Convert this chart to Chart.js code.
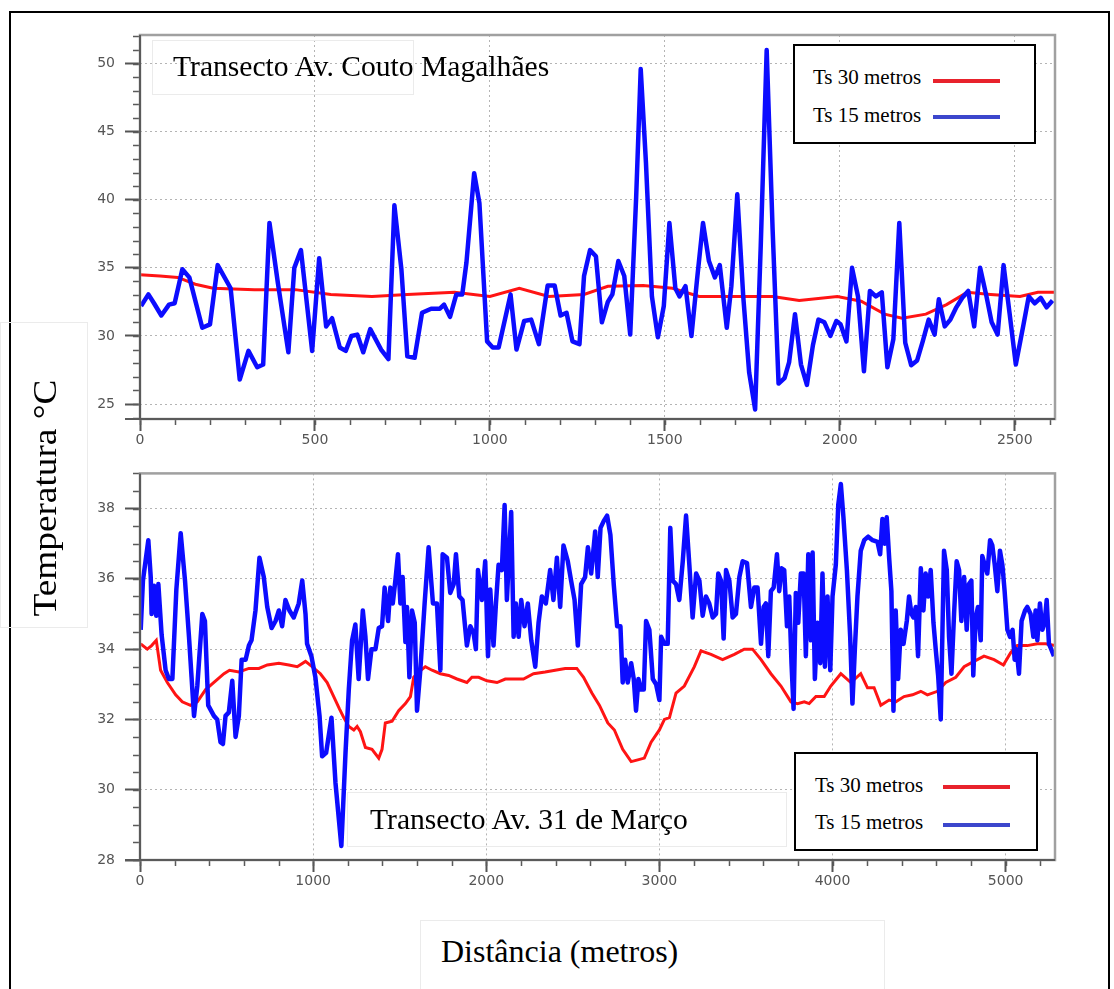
<!DOCTYPE html>
<html><head><meta charset="utf-8">
<script src="https://cdn.jsdelivr.net/npm/chart.js@4.4.1/dist/chart.umd.min.js"></script>
<style>
html,body{margin:0;padding:0;background:#fff;}
body{width:1114px;height:989px;overflow:hidden;position:relative;font-family:"Liberation Serif","Times New Roman",serif;color:#000;}
canvas{position:absolute;left:0;}
.fbox{position:absolute;border:1px solid #ebebeb;box-sizing:border-box;}
.lg{position:absolute;border:2px solid #000;background:#fff;box-sizing:border-box;}
.txt{position:absolute;white-space:nowrap;line-height:1;}
.ll{position:absolute;height:4px;}
</style></head><body>
<div id="frame" style="position:absolute;left:9px;top:11px;width:1101px;height:1010px;border:2px solid #000;box-sizing:border-box;"></div>
<canvas id="c1" width="1114" height="455" style="top:0"></canvas>
<canvas id="c2" width="1114" height="440" style="top:455px"></canvas>

<div class="fbox" style="left:152px;top:40px;width:262px;height:55px;"></div>
<div class="txt" style="left:173px;top:52px;font-size:29.6px;">Transecto Av. Couto Magalhães</div>

<div class="fbox" style="left:347px;top:792px;width:440px;height:55px;"></div>
<div class="txt" style="left:370px;top:805px;font-size:29.6px;">Transecto Av. 31 de Março</div>

<div class="fbox" style="left:0px;top:322px;width:88px;height:306px;"></div>
<div class="txt" id="ylab" style="left:45px;top:498px;font-size:33px;transform:translate(-50%,-50%) rotate(-90deg) scaleX(1.13);">Temperatura °C</div>

<div class="fbox" style="left:420px;top:920px;width:465px;height:80px;"></div>
<div class="txt" style="left:441px;top:935px;font-size:32px;">Distância (metros)</div>

<div class="lg" style="left:793px;top:44px;width:243px;height:100px;"></div>
<div class="txt" id="l1a" style="left:813px;top:67px;font-size:21px;"></div>
<div class="txt" id="l1b" style="left:813px;top:105px;font-size:21px;"></div>
<div class="ll" id="k1a" style="left:933px;top:79px;width:67px;"></div>
<div class="ll" id="k1b" style="left:933px;top:115px;width:67px;"></div>

<div class="lg" style="left:794px;top:752px;width:244px;height:99px;"></div>
<div class="txt" id="l2a" style="left:815px;top:775px;font-size:21px;"></div>
<div class="txt" id="l2b" style="left:815px;top:812px;font-size:21px;"></div>
<div class="ll" id="k2a" style="left:943px;top:785px;width:67px;"></div>
<div class="ll" id="k2b" style="left:943px;top:823px;width:67px;"></div>

<script>
// ---------- DATA ----------
const seriesLabels = ['Ts 30 metros', 'Ts 15 metros'];

// Top panel: Transecto Av. Couto Magalhães
const topXTicks = [0, 500, 1000, 1500, 2000, 2500];
const topYTicks = [25, 30, 35, 40, 45, 50];
const top30X = [0,57,108,158,209,327,444,545,663,764,899,1000,1084,1168,1269,1337,1438,1522,1598,1808,1884,1993,2061,2128,2178,2246,2305,2364,2431,2515,2566,2615];
const top30Y = [34.5,34.4,34.3,33.8,33.5,33.4,33.4,33.05,32.9,33.05,33.2,32.9,33.5,32.9,33.05,33.65,33.7,33.5,32.9,32.9,32.6,32.9,32.55,31.6,31.3,31.6,32.3,33.2,33.05,32.9,33.2,33.2];
const top15X = [3,24,40,61,83,99,121,141,178,200,222,259,285,310,335,352,370,394,424,441,460,492,512,532,549,571,588,604,621,638,658,689,710,727,747,764,785,806,832,857,869,886,904,921,933,955,970,992,1008,1025,1059,1076,1098,1118,1140,1165,1185,1202,1219,1236,1256,1269,1286,1303,1320,1337,1350,1367,1384,1401,1418,1431,1446,1463,1480,1497,1513,1530,1542,1559,1576,1592,1609,1626,1643,1657,1677,1690,1707,1724,1741,1758,1774,1791,1808,1825,1842,1855,1872,1889,1906,1923,1939,1956,1973,1990,2002,2019,2035,2052,2069,2086,2103,2120,2136,2153,2170,2187,2204,2221,2237,2254,2271,2283,2300,2316,2333,2350,2367,2384,2401,2418,2434,2451,2468,2485,2503,2524,2540,2557,2574,2591,2608];
const top15Y = [32.2,33.05,32.4,31.5,32.3,32.4,34.9,34.3,30.6,30.85,35.2,33.5,26.8,28.9,27.7,27.9,38.3,33.9,28.8,35.0,36.3,28.9,35.7,30.7,31.3,29.15,28.9,30.0,30.1,28.8,30.5,29.0,28.3,39.6,34.9,28.5,28.4,31.7,32.0,32.0,32.3,31.4,33.05,33.05,35.4,41.95,39.75,29.6,29.15,29.15,33.05,29.0,31.1,31.2,29.4,33.7,33.7,31.5,31.7,29.6,29.4,34.4,36.3,35.85,31.0,32.5,33.05,35.5,34.4,30.1,40.2,49.6,42.7,32.9,29.9,32.2,38.3,33.5,32.9,33.65,30.0,34.15,38.3,35.5,34.3,35.2,30.6,33.65,40.4,32.9,27.3,24.6,36.6,51.0,37.8,26.5,26.9,28.05,31.6,27.9,26.4,29.3,31.2,31.0,30.0,31.1,30.85,29.6,35.0,32.9,27.4,33.3,32.9,33.2,27.7,29.75,38.3,29.5,27.85,28.2,29.6,31.2,30.1,32.7,30.7,31.2,32.1,32.8,33.3,30.7,35.0,33.05,31.0,30.1,35.2,31.7,27.9,30.7,32.9,32.4,32.8,32.1,32.6];

// Bottom panel: Transecto Av. 31 de Março
const botXTicks = [0, 1000, 2000, 3000, 4000, 5000];
const botYTicks = [28, 30, 32, 34, 36, 38];
const bot30X = [4,42,67,94,119,158,206,244,292,331,379,437,485,517,571,629,687,735,802,860,908,956,994,1042,1081,1119,1152,1177,1206,1235,1254,1273,1302,1340,1379,1398,1417,1456,1494,1533,1562,1581,1610,1648,1687,1735,1783,1831,1888,1917,1956,2004,2062,2110,2158,2215,2273,2340,2398,2456,2523,2562,2610,2654,2702,2740,2788,2837,2875,2913,2952,3000,3029,3058,3096,3144,3202,3240,3298,3365,3433,3490,3538,3587,3644,3702,3760,3798,3837,3865,3904,3952,3990,4048,4106,4163,4202,4240,4279,4327,4365,4413,4462,4510,4548,4606,4654,4712,4760,4817,4875,4933,4987,5029,5067,5125,5183,5231,5285];
const bot30Y = [34.15,34.0,34.1,34.25,33.4,33.05,32.7,32.5,32.4,32.5,32.85,33.1,33.3,33.4,33.35,33.45,33.45,33.55,33.6,33.55,33.5,33.65,33.5,33.3,33.05,32.65,32.3,32.05,31.8,31.7,31.8,31.65,31.2,31.15,30.9,31.15,31.9,31.95,32.25,32.45,32.65,33.2,33.35,33.5,33.4,33.3,33.25,33.15,33.05,33.2,33.2,33.1,33.05,33.15,33.15,33.15,33.3,33.35,33.4,33.45,33.45,33.2,32.75,32.4,31.9,31.7,31.15,30.8,30.85,30.9,31.35,31.7,32.0,32.05,32.75,32.95,33.5,33.95,33.85,33.7,33.85,34.0,34.0,33.7,33.3,32.95,32.5,32.45,32.5,32.45,32.65,32.65,32.95,33.3,33.05,33.3,32.9,32.9,32.4,32.55,32.5,32.65,32.7,32.8,32.7,32.8,33.05,33.2,33.5,33.65,33.8,33.7,33.55,33.9,34.1,34.1,34.15,34.15,34.1];
const bot15X = [4,17,48,62,67,81,94,106,125,148,167,187,210,235,260,283,312,331,360,375,394,427,446,465,479,494,513,533,552,571,587,610,629,644,667,690,715,735,760,783,802,821,840,863,888,917,937,956,965,990,1013,1037,1052,1075,1106,1129,1163,1187,1206,1225,1244,1263,1287,1302,1317,1337,1360,1379,1398,1413,1433,1446,1460,1475,1490,1504,1517,1533,1542,1556,1571,1587,1600,1619,1644,1667,1692,1715,1735,1748,1773,1792,1812,1825,1844,1863,1888,1908,1927,1940,1952,1975,1994,2010,2023,2042,2056,2071,2090,2106,2119,2144,2158,2171,2187,2202,2221,2240,2260,2283,2302,2321,2344,2369,2388,2408,2427,2446,2471,2490,2510,2529,2548,2571,2587,2606,2629,
  2644,2660,2679,2698,2717,2737,2756,2775,2788,2802,2817,2837,2852,2865,2879,2894,2910,2923,2942,2962,2981,3000,3010,3029,3048,3063,3077,3096,3115,3135,3154,3173,3192,3212,3231,3250,3269,3288,3308,3327,3340,3356,3371,3385,3404,3423,3442,3462,3481,3506,3529,3548,3567,3587,3602,3615,3629,3644,3660,3679,3692,3706,3721,3737,3750,3763,3775,3788,3802,3817,3833,3846,3860,3875,3885,3898,3913,3929,3942,3956,3971,3987,4000,4019,4033,4048,4063,4083,4102,4115,4129,4144,4163,4183,4206,4231,4260,4275,4288,4302,4313,4327,4340,4352,4365,4379,4394,4410,4429,4442,4456,4467,4481,4494,4510,4525,4538,4552,4567,4583,4596,4610,4625,4635,4644,4660,4673,4687,4702,4717,4731,4744,4760,4775,4788,4802,4813,4827,4840,4856,4865,4879,4894,4910,4923,4937,4952,4967,4981,4994,5010,5025,5040,5052,5063,5077,5092,5112,5125,5144,5160,5173,5183,5198,5212,5225,5237,5250,5263,5279];
const bot15Y = [34.55,35.95,37.1,36.05,35.0,35.8,34.95,35.85,34.4,33.4,33.15,33.15,35.7,37.3,35.95,34.35,32.1,32.95,35.0,34.8,32.4,32.1,32.0,31.35,31.3,32.1,32.2,33.1,31.5,32.1,33.7,33.7,34.1,34.25,35.1,36.6,36.05,35.2,34.6,34.8,35.1,34.65,35.4,35.1,34.9,35.3,35.95,35.0,34.15,33.8,33.2,32.1,30.95,31.05,32.05,30.2,28.4,31.05,32.85,34.25,34.7,33.15,35.1,34.35,33.15,34.0,34.0,34.6,34.65,35.75,34.8,35.75,35.3,35.95,36.7,35.3,36.05,34.2,35.2,33.2,35.1,34.75,32.25,33.4,35.3,36.9,35.3,35.3,33.4,36.7,36.6,35.6,35.85,36.7,35.5,35.4,34.1,34.65,34.45,34.0,36.25,35.4,36.5,33.8,35.7,34.1,35.3,36.4,36.25,38.1,35.4,37.9,34.35,35.3,34.35,35.4,34.65,35.3,34.25,33.5,34.75,35.5,35.3,36.25,35.4,36.6,35.2,36.95,36.5,35.95,35.4,34.1,35.85,36.05,36.9,36.15,37.35,
  36.05,37.45,37.65,37.8,37.25,35.8,34.65,34.65,33.05,33.7,33.05,33.6,33.15,32.25,33.15,32.85,32.85,34.8,34.55,33.15,33.0,32.55,34.35,34.15,34.15,37.45,35.95,35.85,35.4,36.5,37.8,36.4,34.9,36.15,35.95,34.95,35.5,35.3,34.9,35.0,36.15,35.95,34.3,36.25,35.95,34.9,35.0,36.05,36.5,36.45,35.2,35.75,35.75,34.15,35.2,35.3,33.8,35.65,35.75,36.7,35.65,36.3,36.25,34.65,35.5,33.6,32.3,35.6,34.75,36.15,36.15,33.8,36.7,34.25,36.75,33.15,34.75,33.6,36.15,33.5,35.5,33.4,35.5,36.4,38.1,38.7,37.75,36.25,34.35,32.45,34.0,35.5,36.8,37.1,37.2,37.1,37.05,36.7,37.7,37.0,37.75,36.6,35.65,32.25,35.1,33.15,34.55,34.15,34.8,35.5,35.0,34.9,35.2,33.8,36.3,35.1,36.15,35.5,36.25,34.75,34.0,33.25,32.0,34.55,36.8,36.25,34.35,33.3,35.0,36.5,36.25,34.8,36.05,34.55,35.85,35.95,33.25,34.9,35.2,34.25,36.65,36.4,36.15,37.1,36.95,36.4,35.65,36.8,36.4,35.65,34.55,34.35,34.55,33.7,34.0,33.3,34.8,35.1,35.2,35.0,34.35,35.1,34.25,35.3,34.55,34.75,35.4,34.15,34.0,33.8];

// ---------- STYLE ----------
const RED = '#ff1414', BLUE = '#0c0cff';
const LEG_RED = '#e8222c', LEG_BLUE = '#3c46cc';

const framePlugin = {
  id: 'frameMinor',
  afterDraw(chart, args, o) {
    const {ctx, chartArea: a, scales} = chart;
    const x = scales.x, y = scales.y;
    ctx.save();
    ctx.strokeStyle = '#5a5a5a';
    ctx.lineWidth = 1.5;
    ctx.beginPath();
    const n1 = Math.ceil(y.min / o.yStep), n2 = Math.floor(y.max / o.yStep);
    for (let k = n1; k <= n2; k++) {
      const py = Math.round(y.getPixelForValue(k * o.yStep)) + 0.5;
      ctx.moveTo(a.left - o.yLen, py); ctx.lineTo(a.left, py);
    }
    const m2 = Math.floor(x.max / o.xStep);
    for (let k = 0; k <= m2; k++) {
      const px = Math.round(x.getPixelForValue(k * o.xStep)) + 0.5;
      ctx.moveTo(px, a.bottom); ctx.lineTo(px, a.bottom + o.xLen);
    }
    ctx.stroke();
    ctx.strokeStyle = '#a0a0a0';
    ctx.lineWidth = 2.5;
    ctx.strokeRect(a.left, a.top, a.right - a.left, a.bottom - a.top);
    ctx.strokeStyle = '#5a5a5a';
    ctx.lineWidth = 2;
    ctx.beginPath();
    ctx.moveTo(a.left, a.top); ctx.lineTo(a.left, a.bottom); ctx.lineTo(a.right, a.bottom);
    ctx.moveTo(a.left - 15, a.bottom); ctx.lineTo(a.left, a.bottom);
    ctx.stroke();
    ctx.restore();
  }
};

function pts(xs, ys) { return xs.map((v, i) => ({x: v, y: ys[i]})); }

function makeChart(id, cfg) {
  const tickFont = {family: 'DejaVu Sans', size: 14};
  return new Chart(document.getElementById(id), {
    type: 'line',
    data: {
      datasets: [
        {label: seriesLabels[0], data: pts(cfg.x30, cfg.y30), borderColor: RED, borderWidth: 3, pointRadius: 0, tension: 0, order: 2},
        {label: seriesLabels[1], data: pts(cfg.x15, cfg.y15), borderColor: BLUE, borderWidth: 4.5, pointRadius: 0, tension: 0, order: 1, borderJoinStyle: 'round'}
      ]
    },
    options: {
      animation: false, responsive: false, maintainAspectRatio: false,
      layout: {padding: {left: 0, top: cfg.padTop, right: 59, bottom: 0}},
      plugins: {legend: {display: false}, tooltip: {enabled: false}, frameMinor: cfg.minor},
      scales: {
        x: {
          type: 'linear', min: 0, max: cfg.xMax,
          afterBuildTicks: s => { s.ticks = cfg.xTicks.map(v => ({value: v})); },
          afterFit: s => { s.height = cfg.xH; },
          grid: {color: '#b4b4b4', lineWidth: 1, tickLength: 12, tickColor: '#555', tickWidth: 2},
          border: {display: false, dash: [2, 3]},
          ticks: {color: '#555', font: tickFont, padding: 1, maxRotation: 0, autoSkip: false, callback: v => String(v)}
        },
        y: {
          type: 'linear', min: cfg.yMin, max: cfg.yMax,
          afterBuildTicks: s => { s.ticks = cfg.yTicks.map(v => ({value: v})); },
          afterFit: s => { s.width = 140; },
          grid: {color: '#b4b4b4', lineWidth: 1, tickLength: 15, tickColor: '#555', tickWidth: 2},
          border: {display: false, dash: [2, 3]},
          ticks: {color: '#555', font: tickFont, padding: 10, autoSkip: false, callback: v => String(v)}
        }
      }
    },
    plugins: [framePlugin]
  });
}

const c1 = makeChart('c1', {
  x30: top30X, y30: top30Y, x15: top15X, y15: top15Y,
  xTicks: topXTicks, yTicks: topYTicks, xMax: 2615, yMin: 23.9, yMax: 52.1,
  padTop: 35, xH: 36, minor: {yStep: 1, yLen: 7, xStep: 100, xLen: 6}
});
const c2 = makeChart('c2', {
  x30: bot30X, y30: bot30Y, x15: bot15X, y15: bot15Y,
  xTicks: botXTicks, yTicks: botYTicks, xMax: 5285, yMin: 28, yMax: 39,
  padTop: 13, xH: 35, minor: {yStep: 0.5, yLen: 7, xStep: 200, xLen: 6}
});

// legends (text from dataset labels)
[['l1a','k1a',c1,0],['l1b','k1b',c1,1],['l2a','k2a',c2,0],['l2b','k2b',c2,1]].forEach(([t,k,ch,i]) => {
  document.getElementById(t).textContent = ch.data.datasets[i].label;
  document.getElementById(k).style.background = i === 0 ? LEG_RED : LEG_BLUE;
});
</script>
</body></html>
